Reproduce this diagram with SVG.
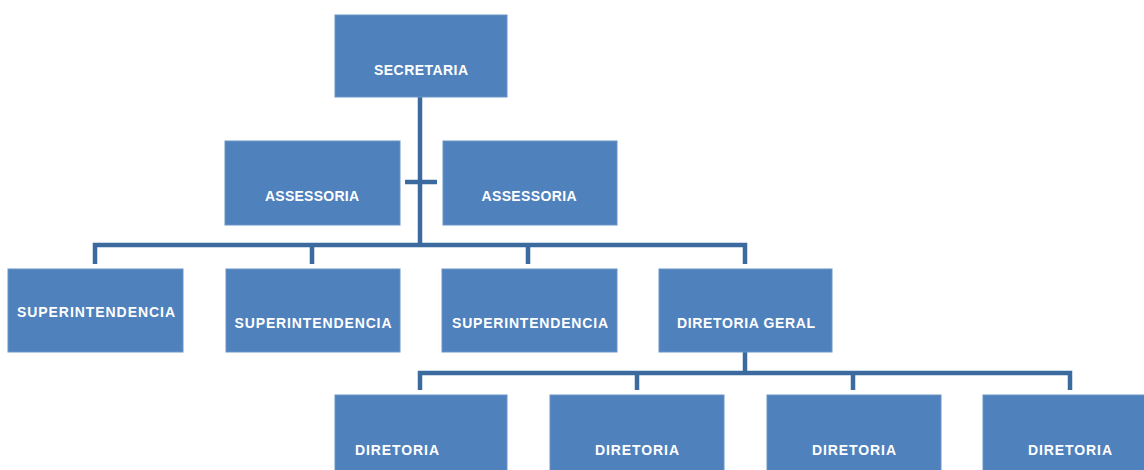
<svg xmlns="http://www.w3.org/2000/svg" width="1144" height="470" viewBox="0 0 1144 470">
<style>
.box{fill:#4F81BD;stroke:#6A93C6;stroke-width:1}
.t{fill:#FFFFFF;font-family:"Liberation Sans",Arial,sans-serif;font-weight:bold;font-size:14px;text-anchor:middle}
.c{fill:none;stroke:#3B6A9E;stroke-width:4.5;stroke-linecap:butt;stroke-linejoin:miter}
</style>
<rect width="1144" height="470" fill="#FFFFFF"/>
<g id="connectors">
<path class="c" d="M420,97 V245"/>
<path class="c" d="M405,182 H437"/>
<path class="c" d="M95,264 V245 H745 V264"/>
<path class="c" d="M312,245 V264"/>
<path class="c" d="M528,245 V264"/>
<path class="c" d="M745,352 V373"/>
<path class="c" d="M420,390 V373 H1070 V390"/>
<path class="c" d="M637,373 V390"/>
<path class="c" d="M853,373 V390"/>
</g>
<g id="secretaria"><rect class="box" x="335" y="15" width="172" height="82"/><text class="t" x="421" y="75" textLength="94" lengthAdjust="spacing">SECRETARIA</text></g>
<g id="assessoria1"><rect class="box" x="225" y="141" width="175" height="84"/><text class="t" x="312" y="201" textLength="94" lengthAdjust="spacing">ASSESSORIA</text></g>
<g id="assessoria2"><rect class="box" x="443" y="141" width="174" height="84"/><text class="t" x="529" y="201" textLength="95" lengthAdjust="spacing">ASSESSORIA</text></g>
<g id="superintendencia1"><rect class="box" x="8" y="269" width="175" height="83"/><text class="t" x="96" y="317" textLength="158" lengthAdjust="spacing">SUPERINTENDENCIA</text></g>
<g id="superintendencia2"><rect class="box" x="226" y="269" width="174" height="83"/><text class="t" x="313" y="328" textLength="157" lengthAdjust="spacing">SUPERINTENDENCIA</text></g>
<g id="superintendencia3"><rect class="box" x="442" y="269" width="175" height="83"/><text class="t" x="530" y="328" textLength="156" lengthAdjust="spacing">SUPERINTENDENCIA</text></g>
<g id="diretoria-geral"><rect class="box" x="659" y="269" width="173" height="83"/><text class="t" x="746" y="328" textLength="138" lengthAdjust="spacing">DIRETORIA GERAL</text></g>
<g id="diretoria1"><rect class="box" x="335" y="395" width="172" height="80"/><text class="t" x="397" y="455" textLength="84" lengthAdjust="spacing">DIRETORIA</text></g>
<g id="diretoria2"><rect class="box" x="550" y="395" width="174" height="80"/><text class="t" x="637" y="455" textLength="84" lengthAdjust="spacing">DIRETORIA</text></g>
<g id="diretoria3"><rect class="box" x="767" y="395" width="174" height="80"/><text class="t" x="854" y="455" textLength="84" lengthAdjust="spacing">DIRETORIA</text></g>
<g id="diretoria4"><rect class="box" x="983" y="395" width="174" height="80"/><text class="t" x="1070" y="455" textLength="84" lengthAdjust="spacing">DIRETORIA</text></g>
</svg>
